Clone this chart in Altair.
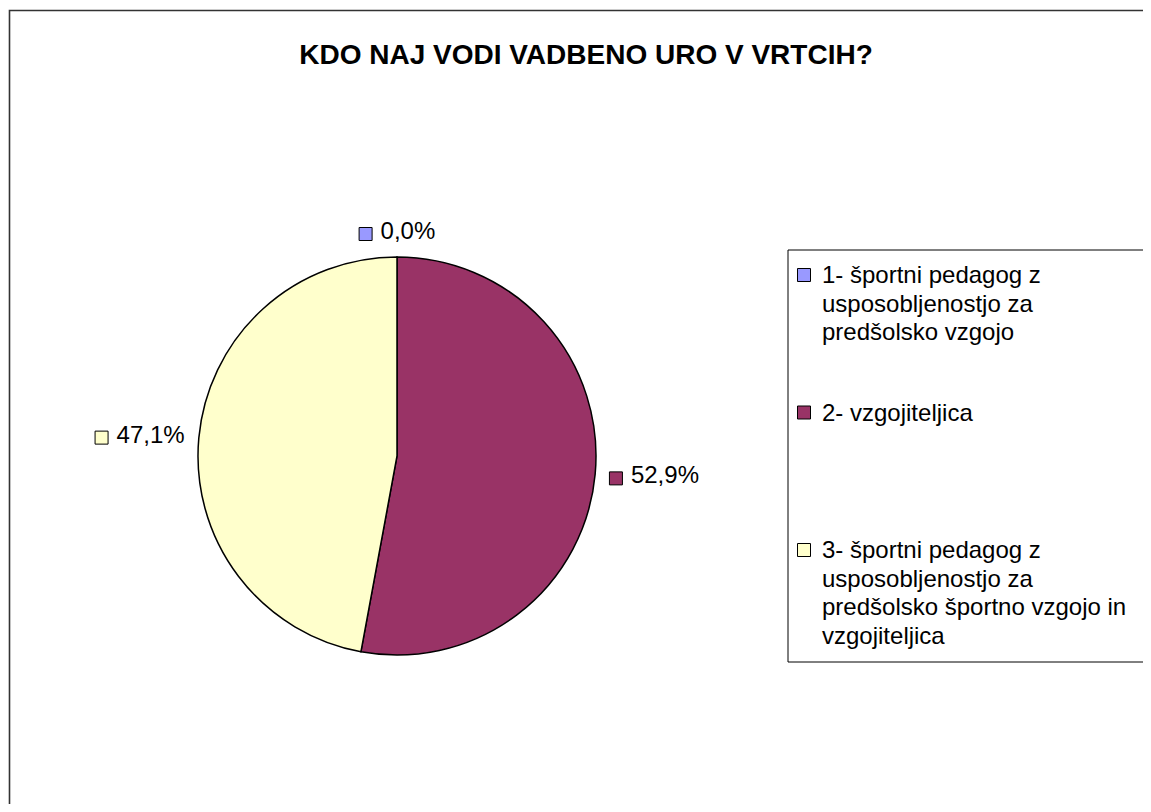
import altair as alt
import pandas as pd

TITLE = "KDO NAJ VODI VADBENO URO V VRTCIH?"
codes = ["1", "2", "3"]
legend_labels = [
    "1- športni pedagog z\nusposobljenostjo za\npredšolsko vzgojo",
    "2- vzgojiteljica",
    "3- športni pedagog z\nusposobljenostjo za\npredšolsko športno vzgojo in\nvzgojiteljica",
]
shares = [0.0, 52.9, 47.1]
pct_labels = ["0,0%", "52,9%", "47,1%"]
colors = ["#9999FF", "#993366", "#FFFFCC"]

FONT = "Liberation Sans"
W, H = 1135, 796
CX, CY, R = 389, 448, 199
RL = 213          # anchor radius for the data labels
LEG_X0, LEG_Y0, LEG_Y1 = 780, 242, 654
LEG_FIRST, LEG_STEP = 269, 137.5

df = pd.DataFrame({
    "code": codes,
    "legend": legend_labels,
    "share": shares,
    "pct": pct_labels,
    "idx": list(range(len(codes))),
})
one = pd.DataFrame({"t": [TITLE]})

color_scale = alt.Scale(domain=codes, range=colors)
base = alt.Chart(df)

frame = alt.Chart(one).mark_rect(fill="white", fillOpacity=0, stroke="#333333", strokeWidth=1.6).encode(
    x=alt.value(1.5), x2=alt.value(1300), y=alt.value(2.5), y2=alt.value(1000)
)

title = alt.Chart(one).mark_text(
    font=FONT, fontSize=28, fontWeight="bold",
    align="center", baseline="alphabetic", color="black"
).encode(x=alt.value(578), y=alt.value(56), text="t:N")

pie = base.mark_arc(stroke="black", strokeWidth=1.5).encode(
    theta=alt.Theta("share:Q", stack=True, scale=alt.Scale(domain=[0, 100])),
    color=alt.Color("code:N", scale=color_scale, legend=None),
    order=alt.Order("code:N", sort="ascending"),
    x=alt.value(CX), y=alt.value(CY), radius=alt.value(R),
)

lab = base.transform_window(
    cum="sum(share)", sort=[alt.SortField("code")]
).transform_calculate(
    mid="(datum.cum - datum.share / 2) / 100 * 2 * PI",
    ax=f"{CX} + {RL} * sin(datum.mid)",
    ay=f"{CY} - {RL} * cos(datum.mid)",
    gw="22 + 13.7 * length(datum.pct)",
    bcx="datum.ax + sin(datum.mid) * datum.gw / 2",
    bcy="datum.ay - cos(datum.mid) * 11",
    sqx="datum.bcx - datum.gw / 2 + 7",
    sqy="datum.bcy + 2",
    tx="datum.bcx - datum.gw / 2 + 22",
)

lab_sq = lab.mark_point(shape="square", filled=True, size=169, stroke="black", strokeWidth=1, opacity=1).encode(
    x=alt.X("sqx:Q", scale=None, axis=None),
    y=alt.Y("sqy:Q", scale=None, axis=None),
    fill=alt.Fill("code:N", scale=color_scale, legend=None),
)
lab_txt = lab.mark_text(font=FONT, fontSize=24, align="left", baseline="middle", color="black").encode(
    x=alt.X("tx:Q", scale=None, axis=None),
    y=alt.Y("bcy:Q", scale=None, axis=None),
    text="pct:N",
)

leg_box = alt.Chart(one).mark_rect(fill="white", fillOpacity=0, stroke="black", strokeWidth=1).encode(
    x=alt.value(LEG_X0), x2=alt.value(1300), y=alt.value(LEG_Y0), y2=alt.value(LEG_Y1)
)
leg = base.transform_calculate(
    ly=f"{LEG_FIRST} + datum.idx * {LEG_STEP}",
    sy="datum.ly - 2",
)
leg_sq = leg.mark_point(shape="square", filled=True, size=169, stroke="black", strokeWidth=1, opacity=1).encode(
    x=alt.value(796),
    y=alt.Y("sy:Q", scale=None, axis=None),
    fill=alt.Fill("code:N", scale=color_scale, legend=None),
)
leg_txt = leg.mark_text(
    font=FONT, fontSize=24, align="left", baseline="middle",
    lineBreak="\n", lineHeight=28.5, color="black", dy=-1
).encode(
    x=alt.value(814),
    y=alt.Y("ly:Q", scale=None, axis=None),
    text="legend:N",
)

chart = alt.layer(frame, title, pie, lab_sq, lab_txt, leg_box, leg_sq, leg_txt).properties(
    width=W, height=H, padding=0, autosize=alt.AutoSizeParams(type="none"),
    background="white",
).configure_view(strokeWidth=0)

chart.save("out.html", embed_options={"renderer": "svg", "actions": False})
